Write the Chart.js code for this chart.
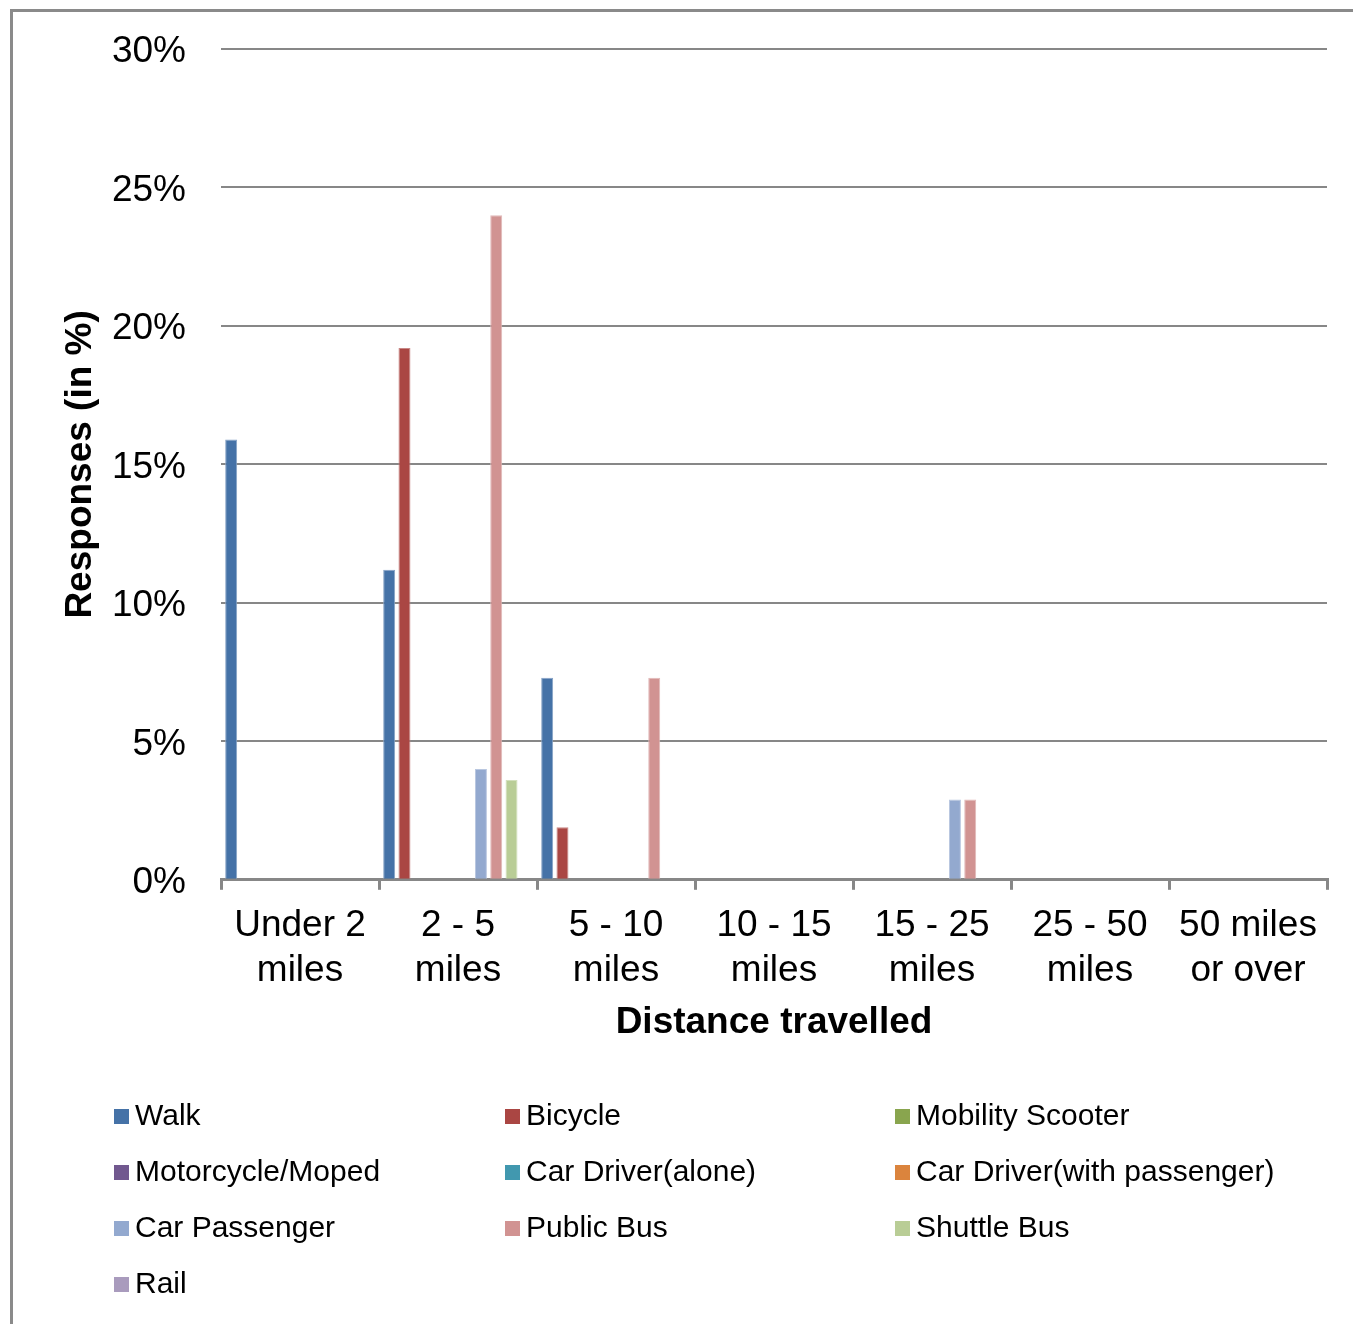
<!DOCTYPE html>
<html>
<head>
<meta charset="utf-8">
<script src="https://cdn.jsdelivr.net/npm/chart.js@4/dist/chart.umd.min.js"></script>
<style>
  html, body { margin: 0; padding: 0; background: #fff; overflow: hidden; }
  #wrap { position: relative; width: 1353px; height: 1324px; }
</style>
</head>
<body>
<div id="wrap"><canvas id="c" width="1353" height="1324"></canvas></div>
<script>
// ---- data ----
const categories = [
  ['Under 2', 'miles'], ['2 - 5', 'miles'], ['5 - 10', 'miles'], ['10 - 15', 'miles'],
  ['15 - 25', 'miles'], ['25 - 50', 'miles'], ['50 miles', 'or over']
];
const seriesNames = [
  'Walk', 'Bicycle', 'Mobility Scooter',
  'Motorcycle/Moped', 'Car Driver(alone)', 'Car Driver(with passenger)',
  'Car Passenger', 'Public Bus', 'Shuttle Bus',
  'Rail'
];
const walk            = [15.9, 11.2, 7.3, 0, 0, 0, 0];
const bicycle         = [0, 19.2, 1.9, 0, 0, 0, 0];
const mobilityScooter = [0, 0, 0, 0, 0, 0, 0];
const motorcycle      = [0, 0, 0, 0, 0, 0, 0];
const carDriverAlone  = [0, 0, 0, 0, 0, 0, 0];
const carDriverWith   = [0, 0, 0, 0, 0, 0, 0];
const carPassenger    = [0, 4.0, 0, 0, 2.9, 0, 0];
const publicBus       = [0, 24.0, 7.3, 0, 2.9, 0, 0];
const shuttleBus      = [0, 3.6, 0, 0, 0, 0, 0];
const rail            = [0, 0, 0, 0, 0, 0, 0];
const seriesValues = [walk, bicycle, mobilityScooter, motorcycle, carDriverAlone,
  carDriverWith, carPassenger, publicBus, shuttleBus, rail];
const yTicks = [0, 5, 10, 15, 20, 25, 30];

// ---- styles ----
const colors = ['#4572A7', '#AA4643', '#89A54E', '#71588F', '#4198AF',
  '#DB843D', '#93A9CF', '#D19392', '#B9CD96', '#A99BBD'];
function lighten(hex, f) {
  const n = parseInt(hex.slice(1), 16);
  const r = (n >> 16) & 255, g = (n >> 8) & 255, b = n & 255;
  const m = c => Math.round(c + (255 - c) * f);
  return `rgb(${m(r)},${m(g)},${m(b)})`;
}
const FONT = "'Liberation Sans', Arial, sans-serif";
const GRAY = '#878787';

const datasets = seriesNames.map((name, i) => ({
  label: name,
  data: seriesValues[i],
  backgroundColor: colors[i],
  borderColor: lighten(colors[i], 0.35),
  borderWidth: 1,
  categoryPercentage: 0.968,
  barPercentage: 0.784
}));

const framePlugin = {
  id: 'frame',
  beforeDraw(chart) {
    const ctx = chart.ctx;
    ctx.save();
    ctx.fillStyle = '#fff';
    ctx.fillRect(0, 0, chart.width, chart.height);
    ctx.strokeStyle = '#8a8a8a';
    ctx.lineWidth = 3;
    ctx.beginPath();
    ctx.moveTo(11.5, chart.height);
    ctx.lineTo(11.5, 10.5);
    ctx.lineTo(chart.width, 10.5);
    ctx.stroke();
    ctx.restore();
  }
};

const legendPlugin = {
  id: 'gridLegend',
  afterDraw(chart) {
    const ctx = chart.ctx;
    const colX = [114, 505, 895];
    const rowY = [1116, 1172, 1228, 1284];
    ctx.save();
    ctx.font = '30px ' + FONT;
    ctx.textBaseline = 'middle';
    ctx.textAlign = 'left';
    chart.data.datasets.forEach((ds, i) => {
      const x = colX[i % 3], y = rowY[Math.floor(i / 3)];
      ctx.fillStyle = ds.backgroundColor;
      ctx.fillRect(x, y - 7, 15, 15);
      ctx.fillStyle = '#000';
      ctx.fillText(ds.label, x + 21, y + 1);
    });
    ctx.restore();
  }
};

new Chart(document.getElementById('c'), {
  type: 'bar',
  data: { labels: categories, datasets },
  plugins: [framePlugin, legendPlugin],
  options: {
    responsive: false,
    animation: false,
    devicePixelRatio: 1,
    layout: { padding: { left: 0, top: 49, right: 26, bottom: 279 } },
    plugins: { legend: { display: false }, tooltip: { enabled: false } },
    scales: {
      x: {
        grid: {
          offset: true, drawOnChartArea: false, drawTicks: true,
          tickLength: 10, color: GRAY, lineWidth: 3
        },
        border: { display: true, color: GRAY, width: 3 },
        ticks: { color: '#000', font: { family: FONT, size: 37, lineHeight: 1.2 }, padding: 14, maxRotation: 0, autoSkip: false },
        title: {
          display: true, text: 'Distance travelled', color: '#000',
          font: { family: FONT, size: 37, weight: 'bold', lineHeight: 1.2 },
          padding: { top: -6, bottom: 0 }
        }
      },
      y: {
        min: 0, max: 30,
        afterBuildTicks(scale) { scale.ticks = yTicks.map(v => ({ value: v })); },
        afterFit(scale) { scale.width = 221; scale.paddingTop = 0; scale.paddingBottom = 0; },
        grid: { color: GRAY, lineWidth: 2, drawTicks: false },
        border: { display: false },
        ticks: {
          color: '#000', padding: 35, labelOffset: 3,
          font: { family: FONT, size: 37 },
          callback: v => v + '%'
        },
        title: {
          display: true, text: 'Responses (in %)', color: '#000',
          font: { family: FONT, size: 37, weight: 'bold', lineHeight: 1.2 },
          padding: { top: 59, bottom: 0 }
        }
      }
    }
  }
});
</script>
</body>
</html>
